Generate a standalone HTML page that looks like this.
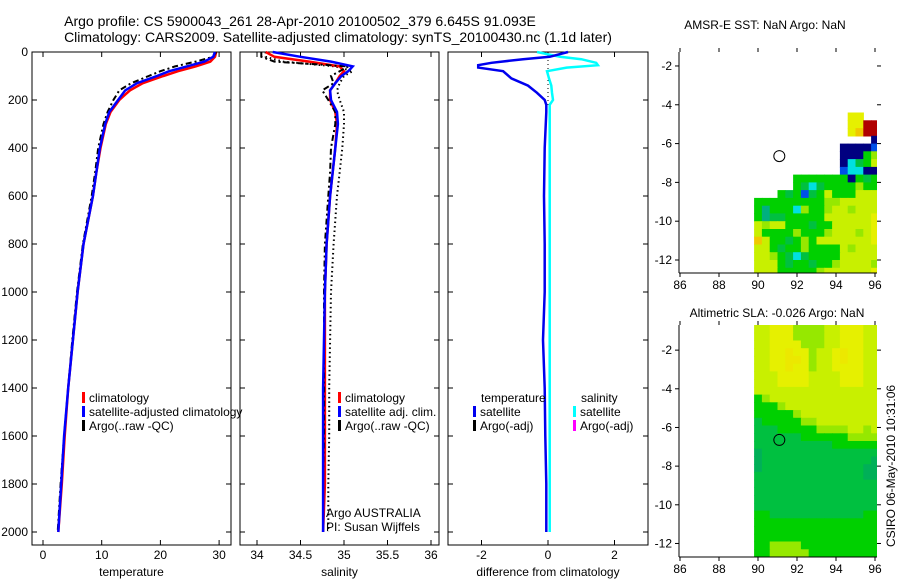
<!DOCTYPE html>
<html><head><meta charset="utf-8"><style>
html,body{margin:0;padding:0;background:#fff;}
svg{display:block;font-family:"Liberation Sans",Arial,sans-serif;}
</style></head><body>
<svg id="fig" width="900" height="580" viewBox="0 0 900 580">
<text x="300" y="26" font-size="14" text-anchor="middle">Argo profile: CS 5900043_261 28-Apr-2010 20100502_379 6.645S 91.093E</text>
<text x="338" y="42" font-size="14" text-anchor="middle">Climatology: CARS2009. Satellite-adjusted climatology: synTS_20100430.nc (1.1d later)</text>
<text x="765" y="29" font-size="12" text-anchor="middle">AMSR-E SST: NaN Argo: NaN</text>
<text x="777" y="317" font-size="12" text-anchor="middle">Altimetric SLA: -0.026 Argo: NaN</text>
<text transform="translate(895,547) rotate(-90)" font-size="12">CSIRO 06-May-2010 10:31:06</text>
<g id="plots"></g>
</svg>
<script>
// ---- profile data ----
const depths = [0,20,40,60,80,100,130,160,200,250,300,400,500,600,800,1000,1200,1400,1600,1800,2000];
const tempSat = [29.3,29,27.5,24.5,21.5,19.4,16,14,12.8,11.3,10.6,9.7,9.1,8.5,6.9,5.9,5.1,4.3,3.6,3.1,2.6];
const tempClim = [29.5,29.3,28.5,26,23,20.5,17,14.8,13,11.5,10.7,9.8,9.1,8.5,6.9,5.9,5.1,4.3,3.7,3.2,2.6];
const tempArgo = [29.5,29,26,22.5,20,18,15,13,12,11,10.3,9.4,8.9,8.3,6.8,5.8,5,4.3,3.6,3.0,2.5];
const salSat = [34.18,34.5,34.85,35.1,35.05,34.97,34.9,34.84,34.85,34.92,34.93,34.9,34.87,34.84,34.8,34.78,34.77,34.76,34.76,34.76,34.76];
const salClim = [34.1,34.2,34.6,34.95,35.0,34.95,34.9,34.84,34.84,34.9,34.92,34.9,34.87,34.84,34.8,34.78,34.78,34.78,34.78,34.78,34.76];
const salArgo = [34.05,34.05,34.2,35.05,34.95,34.85,34.88,34.75,34.82,34.9,34.9,34.85,34.84,34.82,34.78,34.77,34.77,34.77,34.77,34.76,34.76];
const salDotted = [34.1,34.1,34.3,34.9,35.1,35.0,34.95,34.92,34.95,35.0,35.0,34.98,34.95,34.92,34.88,34.85,34.84,34.83,34.83,34.82,34.82];
const diffDepths = [0,20,30,45,55,65,80,110,140,170,200,220,250,400,600,800,1000,1200,1400,1600,1800,2000];
const tempDiff = [0.6,0.05,-0.75,-1.7,-2.1,-2.1,-1.35,-1.1,-0.6,-0.33,-0.1,-0.05,-0.05,-0.1,-0.12,-0.1,-0.1,-0.15,-0.1,-0.08,-0.05,-0.05];
const salDiff = [-0.33,0.36,1.0,1.45,1.5,0.56,-0.03,0.03,0.1,0.12,0.15,0.05,0.05,0.05,0.05,0.05,0.05,0.05,0.05,0.05,0.05,0.05];
const depthTicks = [0,200,400,600,800,1000,1200,1400,1600,1800,2000];
const tempTicks = [0,10,20,30];
const salTicks = [34,34.5,35,35.5,36];
const diffTicks = [-2,0,2];
// ---- map data (cells 0.4 deg, from lon 89.8) ----
const sstRows = [
"............YY..",
"............YYrr",
"............Yorr",
"...............n",
"...........nnnnb",
"...........nnnGL",
"...........ncgGy",
"...........bccnn",
".....GGGGGGGnGgG",
".....GgcgGGGGLGG",
"...GgGbgGyGGGyyy",
"GGGGGGGGGLLyyyyy",
"GtGGGcLGGLyyLyyy",
"GtggGGGGGyyyyyyY",
"yLyyGGGgGGyyyyyY",
"yGGGGLGGGLyyyLyY",
"oyGGgGLGyyyyyyyY",
"yyGgGGLGGGGyLyyy",
"yyLGgcgGGGGyyyyy",
"yyyGgGGgGGLyyyyL",
"yyyGGGGGLyyyyyyY"];
const slaRows = [
"yyYYYLLLLyyYYYyy","yyYYYLLLLyyYYYyy","yyYYYYLLLyyYYYyy",
"yyYYOYYLyyYOYYyy","yyYYOOYLyyYOYYyy","yyYYOYYLyyYYYYyy",
"yyyYYYYyyyyYYYyy","yyyYYYYyyyyYYYyy","yyyyyyyyyyyyyyyy",
"GLyyyyyyyyyyyyyy","GGGLyyyyyyyyyyyy","GGGGGLyyyyyyyyyy",
"gGGGGGLLyyyyyyyy","gggGGGGGLLLLyyLy","ggggggGGGGGGLLLL",
"ggggggggggGGGGGG","dggggggggggggggg","dggggggggggggggd",
"dgggggggggggggdd","ggggggggggggggdd","gggggggggggggggg",
"gggggggggggggggg","gggggggggggggggg","gggggggggggggggg",
"GGggggggggggggGG","GGGGGGGGGGGGGGGG","GGGGGGGGGGGGGGGG",
"GGGGGGGGGGGGGGGG","GGLLLLGGGGGGGGGG","GGLLLLLGGGGGGGGG"];
const lonTicks = [86,88,90,92,94,96];
const latTicks = [-2,-4,-6,-8,-10,-12];
const argoLon = 91.093, argoLat = -6.645;

const NS="http://www.w3.org/2000/svg";
const root=document.getElementById('plots');
function mk(tag,attrs,parent){const e=document.createElementNS(NS,tag);for(const k in attrs)e.setAttribute(k,attrs[k]);(parent||root).appendChild(e);return e;}
const colors={Y:'#e6f000',y:'#c8f000',o:'#f0c800',O:'#ece800',G:'#00d000',g:'#00c040',d:'#00b058',t:'#00b080',c:'#00e0e0',b:'#0050e8',n:'#000080',r:'#b00000',L:'#96e800'};

const yD=d=>52+d*0.24;
function profilePanel(name,x0,x1,xs,ticks,fmt,xlabel,leftLabels){
  const g=mk('g',{});
  
  
  const box=mk('rect',{x:x0,y:52,width:x1-x0,height:493,fill:'none',stroke:'#000','stroke-width':1},g);
  
  
  depthTicks.forEach(d=>{
    mk('line',{x1:x0,x2:x0+5,y1:yD(d),y2:yD(d),stroke:'#000'},g);
    mk('line',{x1:x1,x2:x1-5,y1:yD(d),y2:yD(d),stroke:'#000'},g);
    if(leftLabels){const t=mk('text',{x:x0-4,y:yD(d)+4,'font-size':12,'text-anchor':'end'},g);t.textContent=d;
      
      }
  });
  ticks.forEach(v=>{
    const x=xs(v);
    mk('line',{x1:x,x2:x,y1:545,y2:540,stroke:'#000'},g);
    mk('line',{x1:x,x2:x,y1:52,y2:57,stroke:'#000'},g);
    const t=mk('text',{x:x,y:559,'font-size':12,'text-anchor':'middle'},g);t.textContent=fmt(v);
    
    
  });
  const lt=mk('text',{x:(x0+x1)/2,y:576,'font-size':12,'text-anchor':'middle'},g);lt.textContent=xlabel;
  
  
  return g;
}
function line(g,vals,ds,xs,attrs,name){
  const pts=vals.map((v,i)=>xs(v).toFixed(1)+','+yD(ds[i]).toFixed(1)).join(' ');
  const p=mk('polyline',Object.assign({points:pts,fill:'none'},attrs),g);
  
  
}
function legend(g,x,y,color,label,name){
  mk('rect',{x:x,y:y-10,width:3,height:11,fill:color},g);
  const t=mk('text',{x:x+7,y:y,'font-size':12},g);t.textContent=label;
  
  
}
// temperature
const xT=v=>43+v*5.87;
const g1=profilePanel('temperature-panel',32,231,xT,tempTicks,v=>v,'temperature',true);
line(g1,tempClim,depths,xT,{stroke:'#f00','stroke-width':2.5},'temperature-climatology-line');
line(g1,tempArgo,depths,xT,{stroke:'#000','stroke-width':2,'stroke-dasharray':'6,3,2,3'},'temperature-argo-line');
line(g1,tempSat,depths,xT,{stroke:'#00f','stroke-width':2.5},'temperature-satellite-line');
legend(g1,82,402,'#f00','climatology','legend-climatology');
legend(g1,82,416,'#00f','satellite-adjusted climatology','legend-satellite-adjusted');
legend(g1,82,430,'#000','Argo(..raw -QC)','legend-argo');
// salinity
const xS=v=>257+(v-34)*87;
const g2=profilePanel('salinity-panel',240,439,xS,salTicks,v=>v,'salinity',false);
line(g2,salDotted,depths,xS,{stroke:'#000','stroke-width':2,'stroke-dasharray':'1.5,3'},'salinity-dotted-line');
line(g2,salClim,depths,xS,{stroke:'#f00','stroke-width':2.5},'salinity-climatology-line');
line(g2,salArgo,depths,xS,{stroke:'#000','stroke-width':2,'stroke-dasharray':'6,3,2,3'},'salinity-argo-line');
line(g2,salSat,depths,xS,{stroke:'#00f','stroke-width':2.5},'salinity-satellite-line');
legend(g2,338,402,'#f00','climatology','legend-sal-climatology');
legend(g2,338,416,'#00f','satellite adj. clim.','legend-sal-satellite');
legend(g2,338,430,'#000','Argo(..raw -QC)','legend-sal-argo');
[['Argo AUSTRALIA',517],['PI: Susan Wijffels',531]].forEach(([s,y])=>{const t=mk('text',{x:326,y:y,'font-size':12},g2);t.textContent=s;
  
  });
// difference
const xDf=v=>548+v*33.25;
const g3=profilePanel('difference-panel',448,648,xDf,diffTicks,v=>v,'difference from climatology',false);
mk('line',{x1:xDf(0),x2:xDf(0),y1:52,y2:yD(220),stroke:'#000','stroke-dasharray':'1,3'},g3);
line(g3,salDiff,diffDepths,xDf,{stroke:'#0ff','stroke-width':2.5},'salinity-difference-line');
line(g3,tempDiff,diffDepths,xDf,{stroke:'#00e','stroke-width':2.5},'temperature-difference-line');
const tt=mk('text',{x:481,y:402,'font-size':12},g3);tt.textContent='temperature';


const st=mk('text',{x:581,y:402,'font-size':12},g3);st.textContent='salinity';


legend(g3,473,416,'#00e','satellite','legend-temp-satellite');
legend(g3,473,430,'#000','Argo(-adj)','legend-temp-argo');
legend(g3,573,416,'#0ff','satellite','legend-sal-satellite-diff');
legend(g3,573,430,'#f0f','Argo(-adj)','legend-sal-argo-diff');

// maps
function mapPanel(name,top,bottom,latTop,latBot,rows,rowLat0){
  const g=mk('g',{});
  
  
  const x0=679,x1=877;
  const lonX=l=>680+(l-86)*19.5;
  const latY=l=>top+(latTop-l)*(bottom-top)/(latTop-latBot);
  const cid=name+'-clip';
  const cp=mk('clipPath',{id:cid},g);
  mk('rect',{x:x0,y:top,width:x1-x0,height:bottom-top},cp);
  const cg=mk('g',{'clip-path':'url(#'+cid+')'},g);
  rows.forEach((row,j)=>{
    for(let i=0;i<row.length;i++){
      const ch=row[i]; if(ch==='.')continue;
      const lon=89.8+0.4*i, la=rowLat0-0.4*j;
      const xa=lonX(lon), ya=latY(la);
      const c=mk('rect',{x:xa.toFixed(1),y:ya.toFixed(1),width:(lonX(lon+0.4)-xa+0.6).toFixed(1),height:(latY(la-0.4)-ya+0.6).toFixed(1),fill:colors[ch]},cg);
      
      
    }
  });
  const circ=mk('circle',{cx:lonX(argoLon),cy:latY(argoLat),r:5.5,fill:'none',stroke:'#000'},g);
  
  
  mk('line',{x1:x0,x2:x0,y1:top,y2:bottom,stroke:'#000'},g);
  mk('line',{x1:x0,x2:x1,y1:bottom,y2:bottom,stroke:'#000'},g);
  latTicks.forEach(l=>{const y=latY(l);
    mk('line',{x1:x0-4,x2:x0,y1:y,y2:y,stroke:'#000'},g);
    mk('line',{x1:x1+4,x2:x1,y1:y,y2:y,stroke:'#000'},g);
    const t=mk('text',{x:x0-7,y:y+4,'font-size':12,'text-anchor':'end'},g);t.textContent=l;
    
    });
  lonTicks.forEach(l=>{const x=lonX(l);
    mk('line',{x1:x,x2:x,y1:bottom,y2:bottom+4,stroke:'#000'},g);
    mk('line',{x1:x,x2:x,y1:top,y2:top-4,stroke:'#000'},g);
    const t=mk('text',{x:x,y:bottom+16,'font-size':12,'text-anchor':'middle'},g);t.textContent=l;
    
    });
}
mapPanel('sst-map',52,273,-1.28,-12.67,sstRows,-4.4);
mapPanel('sla-map',325,557,-0.7,-12.7,slaRows,-0.7);
</script>
</body></html>
